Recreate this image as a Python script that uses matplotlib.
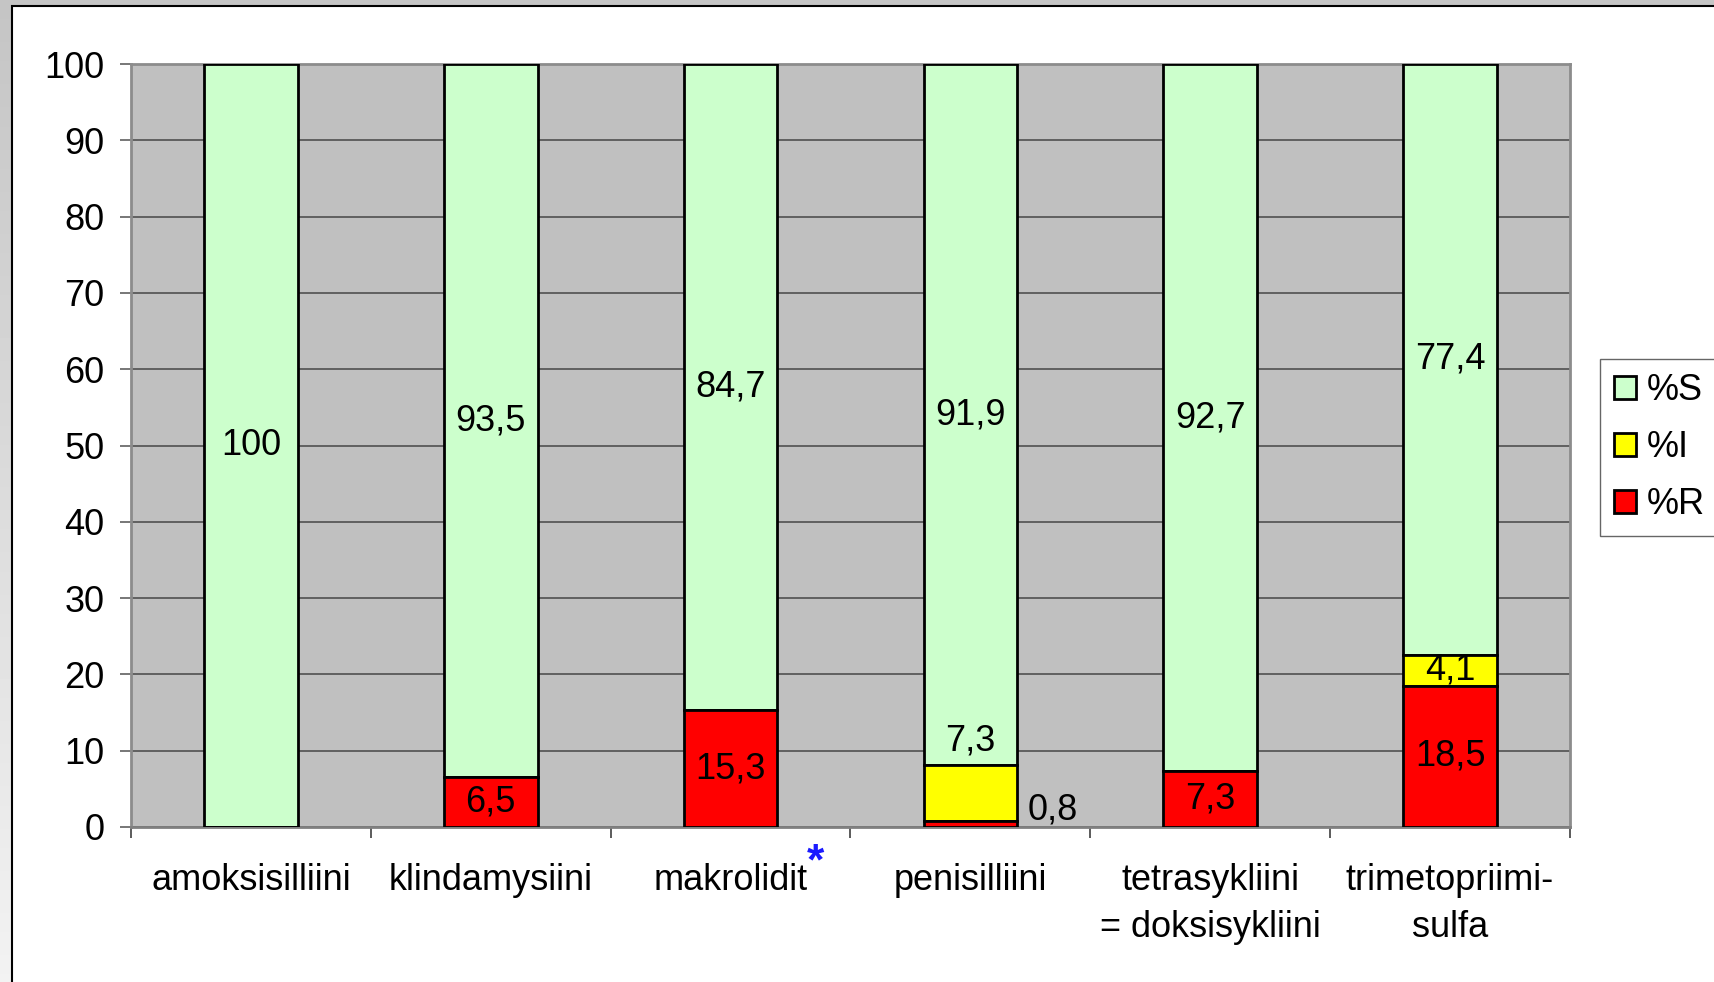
import numpy as np
import matplotlib
matplotlib.use("Agg")
import matplotlib.pyplot as plt
from matplotlib.patches import Rectangle

plt.rcParams['font.family'] = ['Liberation Sans', 'DejaVu Sans']

# data
categories = ["amoksisilliini", "klindamysiini", "makrolidit", "penisilliini",
              "tetrasykliini\n= doksisykliini", "trimetopriimi-\nsulfa"]
pct_R = [0, 6.5, 15.3, 0.8, 7.3, 18.5]
pct_I = [0, 0, 0, 7.3, 0, 4.1]
pct_S = [100, 93.5, 84.7, 91.9, 92.7, 77.4]
series_names = ["%S", "%I", "%R"]
col_S, col_I, col_R = "#ccffcc", "#ffff00", "#ff0000"


def fmt(v):
    return f"{v:g}".replace(".", ",")


fig = plt.figure(figsize=(17.15, 9.82), dpi=100)

# outer frame: gray gradient with white panel
bg = fig.add_axes([0, 0, 1, 1], zorder=-10)
grad = np.linspace(0.77, 0.95, 256).reshape(-1, 1)
bg.imshow(grad, cmap="gray", vmin=0, vmax=1, aspect="auto", extent=[0, 1, 0, 1])
bg.add_patch(Rectangle((12 / 1715, -0.01), 1.0, 1 - 6 / 982 + 0.01,
                       facecolor="white", edgecolor="black", lw=1.5))
bg.set_xlim(0, 1)
bg.set_ylim(0, 1)
bg.axis("off")

ax = fig.add_axes([131 / 1715, 1 - 827 / 982, (1570 - 131) / 1715, (827 - 64) / 982])
ax.set_facecolor("#c0c0c0")

x = np.arange(len(categories))
w = 0.39
R = np.array(pct_R)
I = np.array(pct_I)
S = np.array(pct_S)
kw = dict(width=w, edgecolor="black", linewidth=2, zorder=3)
bS = ax.bar(x, S, bottom=R + I, color=col_S, label=series_names[0], **kw)
bI = ax.bar(x, I, bottom=R, color=col_I, label=series_names[1], **kw)
bR = ax.bar(x, R, color=col_R, label=series_names[2], **kw)

fs = 26
# labels
for i in range(len(categories)):
    ax.text(x[i], R[i] + I[i] + S[i] / 2, fmt(S[i]), ha="center", va="center",
            fontsize=fs, zorder=5)
    small_r = 0 < R[i] < 2
    if R[i] >= 2:
        ax.text(x[i], R[i] / 2, fmt(R[i]), ha="center", va="center", fontsize=fs, zorder=5)
    elif small_r:
        ax.text(x[i] + w / 2 + 0.045, R[i] + 1.4, fmt(R[i]), ha="left", va="center",
                fontsize=fs, zorder=5)
    if I[i] > 0:
        if small_r:
            # Excel pushed this one above the yellow segment
            ax.text(x[i], R[i] + I[i] + 3.2, fmt(I[i]), ha="center", va="center",
                    fontsize=fs, zorder=5)
        else:
            ax.text(x[i], R[i] + I[i] / 2, fmt(I[i]), ha="center", va="center",
                    fontsize=fs, zorder=5)

ax.set_xlim(-0.5, len(categories) - 0.5)
ax.set_ylim(0, 100)
ax.set_yticks(np.arange(0, 101, 10))
ax.yaxis.grid(True, color="#505050", lw=1.2, zorder=0)
ax.set_axisbelow(True)
for s in ax.spines.values():
    s.set_color("#8c8c8c")
    s.set_linewidth(2)
ax.spines["bottom"].set_color("#808080")

ax.set_xticks(np.arange(-0.5, len(categories), 1.0))
ax.set_xticklabels([])
ax.set_xticks(x, minor=True)
ax.set_xticklabels(categories, minor=True, fontsize=fs, linespacing=1.45)
ax.tick_params(axis="x", which="major", length=8, width=1.2, color="#404040", direction="out")
ax.tick_params(axis="x", which="minor", length=0, pad=26)
ax.tick_params(axis="y", length=8, width=1.2, color="#606060", labelsize=fs, pad=11)

# asterisk after makrolidit
ax.text(2.354, -4.7, "*", color="#1a1aff", fontsize=32, fontweight="bold",
        ha="center", va="center", clip_on=False)

leg = ax.legend(handles=[bS, bI, bR], loc="upper left",
                bbox_to_anchor=(1600 / 1715, 1 - 359 / 982), bbox_transform=fig.transFigure,
                fontsize=fs, frameon=True, fancybox=False, edgecolor="#404040",
                handlelength=0.6, handleheight=0.6, handletextpad=0.3,
                labelspacing=0.6, borderpad=0.4, borderaxespad=0)
leg.get_frame().set_linewidth(1.0)

fig.savefig("out.png", dpi=100)
